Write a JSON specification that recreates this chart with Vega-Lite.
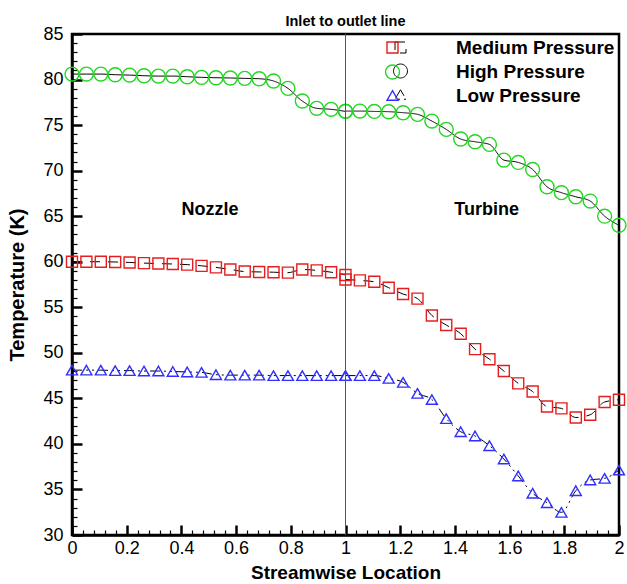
{
  "$schema": "https://vega.github.io/schema/vega-lite/v6.json",
  "autosize": "none",
  "width": 547,
  "height": 501,
  "padding": {"left": 72, "top": 34, "right": 8, "bottom": 49},
  "background": "white",
  "title": {"text": "Inlet to outlet line", "font": "Liberation Sans", "fontSize": 14.5, "fontWeight": "bold", "color": "black", "anchor": "middle", "offset": -15, "baseline": "alphabetic", "frame": "group"},
  "config": {
    "view": {"stroke": "black", "strokeWidth": 2.5},
    "font": "Liberation Sans",
    "legend": {"symbolType": "M-8.2,0H5.45"}
  },
  "data": {"values": [
    {"x": 0, "zone": "nozzle", "Medium Pressure": 60.0, "High Pressure": 80.6, "Low Pressure": 48.1},
    {"x": 0.0526, "zone": "nozzle", "Medium Pressure": 60.0, "High Pressure": 80.6, "Low Pressure": 48.1},
    {"x": 0.1053, "zone": "nozzle", "Medium Pressure": 60.0, "High Pressure": 80.6, "Low Pressure": 48.1},
    {"x": 0.1579, "zone": "nozzle", "Medium Pressure": 59.97, "High Pressure": 80.53, "Low Pressure": 48.05},
    {"x": 0.2105, "zone": "nozzle", "Medium Pressure": 59.92, "High Pressure": 80.49, "Low Pressure": 48.05},
    {"x": 0.2632, "zone": "nozzle", "Medium Pressure": 59.85, "High Pressure": 80.42, "Low Pressure": 48.0},
    {"x": 0.3158, "zone": "nozzle", "Medium Pressure": 59.8, "High Pressure": 80.38, "Low Pressure": 48.0},
    {"x": 0.3684, "zone": "nozzle", "Medium Pressure": 59.75, "High Pressure": 80.38, "Low Pressure": 47.95},
    {"x": 0.4211, "zone": "nozzle", "Medium Pressure": 59.68, "High Pressure": 80.31, "Low Pressure": 47.9},
    {"x": 0.4737, "zone": "nozzle", "Medium Pressure": 59.55, "High Pressure": 80.24, "Low Pressure": 47.85},
    {"x": 0.5263, "zone": "nozzle", "Medium Pressure": 59.38, "High Pressure": 80.2, "Low Pressure": 47.6},
    {"x": 0.5789, "zone": "nozzle", "Medium Pressure": 59.15, "High Pressure": 80.17, "Low Pressure": 47.55},
    {"x": 0.6316, "zone": "nozzle", "Medium Pressure": 58.92, "High Pressure": 80.13, "Low Pressure": 47.55},
    {"x": 0.6842, "zone": "nozzle", "Medium Pressure": 58.88, "High Pressure": 80.09, "Low Pressure": 47.55},
    {"x": 0.7368, "zone": "nozzle", "Medium Pressure": 58.85, "High Pressure": 79.84, "Low Pressure": 47.5},
    {"x": 0.7895, "zone": "nozzle", "Medium Pressure": 58.8, "High Pressure": 79.03, "Low Pressure": 47.5},
    {"x": 0.8421, "zone": "nozzle", "Medium Pressure": 59.15, "High Pressure": 77.64, "Low Pressure": 47.5},
    {"x": 0.8947, "zone": "nozzle", "Medium Pressure": 59.05, "High Pressure": 76.84, "Low Pressure": 47.5},
    {"x": 0.9474, "zone": "nozzle", "Medium Pressure": 58.85, "High Pressure": 76.73, "Low Pressure": 47.5},
    {"x": 1.0, "zone": "nozzle", "Medium Pressure": 58.55, "High Pressure": 76.5, "Low Pressure": 47.5},
    {"x": 1.0, "zone": "turbine", "Medium Pressure": 58.05, "High Pressure": 76.54, "Low Pressure": 47.5},
    {"x": 1.0526, "zone": "turbine", "Medium Pressure": 57.95, "High Pressure": 76.54, "Low Pressure": 47.5},
    {"x": 1.1053, "zone": "turbine", "Medium Pressure": 57.8, "High Pressure": 76.5, "Low Pressure": 47.5},
    {"x": 1.1579, "zone": "turbine", "Medium Pressure": 57.15, "High Pressure": 76.47, "Low Pressure": 47.2},
    {"x": 1.2105, "zone": "turbine", "Medium Pressure": 56.45, "High Pressure": 76.36, "Low Pressure": 46.76},
    {"x": 1.2632, "zone": "turbine", "Medium Pressure": 55.95, "High Pressure": 76.18, "Low Pressure": 45.55},
    {"x": 1.3158, "zone": "turbine", "Medium Pressure": 54.1, "High Pressure": 75.44, "Low Pressure": 44.87},
    {"x": 1.3684, "zone": "turbine", "Medium Pressure": 53.05, "High Pressure": 74.53, "Low Pressure": 42.78},
    {"x": 1.4211, "zone": "turbine", "Medium Pressure": 52.1, "High Pressure": 73.47, "Low Pressure": 41.34},
    {"x": 1.4737, "zone": "turbine", "Medium Pressure": 50.4, "High Pressure": 73.17, "Low Pressure": 40.87},
    {"x": 1.5263, "zone": "turbine", "Medium Pressure": 49.3, "High Pressure": 72.88, "Low Pressure": 39.8},
    {"x": 1.5789, "zone": "turbine", "Medium Pressure": 48.0, "High Pressure": 71.16, "Low Pressure": 38.34},
    {"x": 1.6316, "zone": "turbine", "Medium Pressure": 46.65, "High Pressure": 70.9, "Low Pressure": 36.48},
    {"x": 1.6842, "zone": "turbine", "Medium Pressure": 45.75, "High Pressure": 70.13, "Low Pressure": 34.58},
    {"x": 1.7368, "zone": "turbine", "Medium Pressure": 44.1, "High Pressure": 68.23, "Low Pressure": 33.55},
    {"x": 1.7895, "zone": "turbine", "Medium Pressure": 43.9, "High Pressure": 67.58, "Low Pressure": 32.49},
    {"x": 1.8421, "zone": "turbine", "Medium Pressure": 42.9, "High Pressure": 67.13, "Low Pressure": 34.86},
    {"x": 1.8947, "zone": "turbine", "Medium Pressure": 43.2, "High Pressure": 66.66, "Low Pressure": 36.04},
    {"x": 1.9474, "zone": "turbine", "Medium Pressure": 44.6, "High Pressure": 65.0, "Low Pressure": 36.22},
    {"x": 2.0, "zone": "turbine", "Medium Pressure": 44.85, "High Pressure": 64.0, "Low Pressure": 37.13}
  ]},
  "transform": [{"fold": ["Medium Pressure", "High Pressure", "Low Pressure"], "as": ["series", "T"]}],
  "encoding": {
    "x": {"field": "x", "type": "quantitative",
      "scale": {"domain": [0, 2], "nice": false, "zero": false},
      "axis": {
        "values": [0,0.04,0.08,0.12,0.16,0.2,0.24,0.28,0.32,0.36,0.4,0.44,0.48,0.52,0.56,0.6,0.64,0.68,0.72,0.76,0.8,0.84,0.88,0.92,0.96,1,1.04,1.08,1.12,1.16,1.2,1.24,1.28,1.32,1.36,1.4,1.44,1.48,1.52,1.56,1.6,1.64,1.68,1.72,1.76,1.8,1.84,1.88,1.92,1.96,2],
        "labelExpr": "abs(datum.value*5 - round(datum.value*5)) < 0.001 ? format(datum.value, '.1~f') : ''",
        "tickSize": {"condition": {"test": "abs(datum.value*5 - round(datum.value*5)) < 0.001", "value": -10}, "value": -5},
        "tickWidth": {"condition": {"test": "abs(datum.value*5 - round(datum.value*5)) < 0.001", "value": 2.5}, "value": 1.2},
        "tickColor": "black", "domainColor": "black", "domainWidth": 2.5,
        "labelFont": "Liberation Sans", "labelFontSize": 18, "labelColor": "black", "labelPadding": 14,
        "labelOverlap": false, "labelFlush": false, "grid": false,
        "title": "Streamwise Location", "titleFont": "Liberation Sans", "titleFontSize": 19, "titleFontWeight": "bold", "titleColor": "black", "titlePadding": 1
      }},
    "y": {"field": "T", "type": "quantitative",
      "scale": {"domain": [30, 85], "nice": false, "zero": false},
      "axis": {
        "values": [30,31,32,33,34,35,36,37,38,39,40,41,42,43,44,45,46,47,48,49,50,51,52,53,54,55,56,57,58,59,60,61,62,63,64,65,66,67,68,69,70,71,72,73,74,75,76,77,78,79,80,81,82,83,84,85],
        "labelExpr": "datum.value % 5 == 0 ? datum.label : ''",
        "tickSize": {"condition": {"test": "datum.value % 5 == 0", "value": -10}, "value": -5},
        "tickWidth": {"condition": {"test": "datum.value % 5 == 0", "value": 2.5}, "value": 1.2},
        "tickColor": "black", "domainColor": "black", "domainWidth": 2.5,
        "labelFont": "Liberation Sans", "labelFontSize": 18, "labelColor": "black", "labelPadding": 19,
        "labelOverlap": false, "labelFlush": false, "grid": false,
        "title": "Temperature (K)", "titleFont": "Liberation Sans", "titleFontSize": 20, "titleFontWeight": "bold", "titleColor": "black", "titlePadding": 15
      }}
  },
  "layer": [
    {
      "mark": {"type": "line", "color": "black", "strokeWidth": 1, "interpolate": "monotone"},
      "encoding": {
        "detail": {"field": "zone", "type": "nominal"},
        "strokeDash": {"field": "series", "type": "nominal",
          "scale": {"domain": ["Medium Pressure", "High Pressure", "Low Pressure"], "range": [[10, 8], [1, 0], [10, 4, 2, 4, 2, 4]]},
          "legend": {"orient": "none", "legendX": 319, "legendY": 4, "title": null, "padding": 0,
            "symbolType": "M-8.2,0H5.45", "symbolSize": 121, "symbolStrokeColor": "black", "symbolStrokeWidth": 1, "symbolFillColor": "transparent",
            "labelFont": "Liberation Sans", "labelFontSize": 19, "labelFontWeight": "bold", "labelExpr": "''", "labelOffset": 54, "rowPadding": 3.5}
        }
      }
    },
    {
      "mark": {"type": "point", "filled": false, "size": 121, "strokeWidth": 1.4, "opacity": 1},
      "encoding": {
        "color": {"field": "series", "type": "nominal",
          "scale": {"domain": ["Medium Pressure", "High Pressure", "Low Pressure"], "range": ["#e41e1e", "#22d622", "#2f2fff"]},
          "legend": {"orient": "top-right", "offset": 4, "title": null, "padding": 0,
            "symbolSize": 121, "symbolStrokeWidth": 1.4,
            "labelFont": "Liberation Sans", "labelFontSize": 19, "labelFontWeight": "bold", "labelColor": "black", "labelOffset": 54, "rowPadding": 3.5}
        },
        "shape": {"field": "series", "type": "nominal",
          "scale": {"domain": ["Medium Pressure", "High Pressure", "Low Pressure"], "range": ["square", "M1.27,0C1.27,0.7014,0.7014,1.27,0,1.27C-0.7014,1.27,-1.27,0.7014,-1.27,0C-1.27,-0.7014,-0.7014,-1.27,0,-1.27C0.7014,-1.27,1.27,-0.7014,1.27,0Z", "triangle-up"]}
        }
      }
    },
    {
      "data": {"values": [{"x": 1}]},
      "mark": {"type": "rule", "color": "#555555", "strokeWidth": 1},
      "encoding": {"x": {"field": "x", "type": "quantitative"}, "y": null}
    },
    {
      "data": {"values": [{"x": 0.505, "T": 65.7, "label": "Nozzle"}, {"x": 1.516, "T": 65.7, "label": "Turbine"}]},
      "mark": {"type": "text", "font": "Liberation Sans", "fontSize": 18, "fontWeight": "bold", "color": "black", "align": "center", "baseline": "middle"},
      "encoding": {"text": {"field": "label"}}
    }
  ]
}
